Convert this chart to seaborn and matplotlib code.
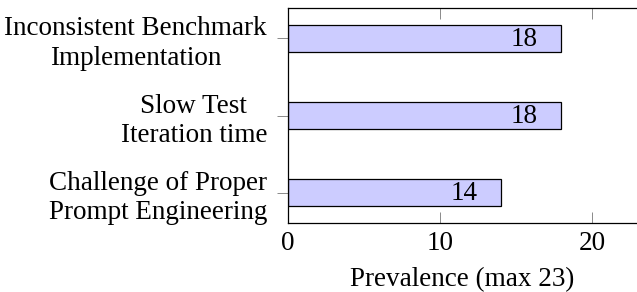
import pandas as pd
import matplotlib.pyplot as plt
import seaborn as sns

# --- data ---
categories = ["Inconsistent Benchmark\nImplementation",
              "Slow Test\nIteration time",
              "Challenge of Proper\nPrompt Engineering"]
prevalence = [18, 18, 14]
x_max = 23
x_ticks = [0, 10, 20]

df = pd.DataFrame({"cat": categories, "val": prevalence})

sns.set_theme(style="white")
plt.rcParams["font.family"] = ["Liberation Serif", "DejaVu Serif"]
plt.rcParams["text.color"] = "black"
plt.rcParams["xtick.labelcolor"] = "black"
plt.rcParams["ytick.labelcolor"] = "black"
plt.rcParams["axes.labelcolor"] = "black"

FS = 19.5

fig = plt.figure(figsize=(6.37, 2.92), dpi=100)
ax = fig.add_axes([0.452, 0.2363, 0.5487, 0.7363])

sns.barplot(data=df, x="val", y="cat", orient="h", color="#ccccff",
            saturation=1, edgecolor="black", linewidth=0.9, width=0.35, ax=ax)

ax.set_xlim(0, x_max)
ax.set_ylim(2.396, -0.396)
ax.set_xticks(x_ticks)
ax.set_xticklabels([str(t) for t in x_ticks], fontsize=FS)
ax.set_yticks(range(len(categories)))
ax.set_yticklabels(categories, fontsize=FS, multialignment="center",
                   linespacing=1.25)
ax.tick_params(axis="x", direction="in", length=8, width=0.6, color="#777777",
               top=True, bottom=True, pad=6)
ax.tick_params(axis="y", direction="out", length=8, width=0.6, color="#777777",
               left=True, pad=7)
ax.set_xlabel("Prevalence (max 23)", fontsize=FS, labelpad=7.5)
ax.set_ylabel("")

for s in ["left", "bottom", "top"]:
    ax.spines[s].set_color("black")
    ax.spines[s].set_linewidth(0.9)
ax.spines["right"].set_visible(False)

# value labels inside the bars
for i, v in enumerate(prevalence):
    ax.annotate(str(v), xy=(v, i), xytext=(-26.6, -1), textcoords="offset points",
                ha="center", va="center", fontsize=FS)

fig.savefig("out.png", dpi=100)
